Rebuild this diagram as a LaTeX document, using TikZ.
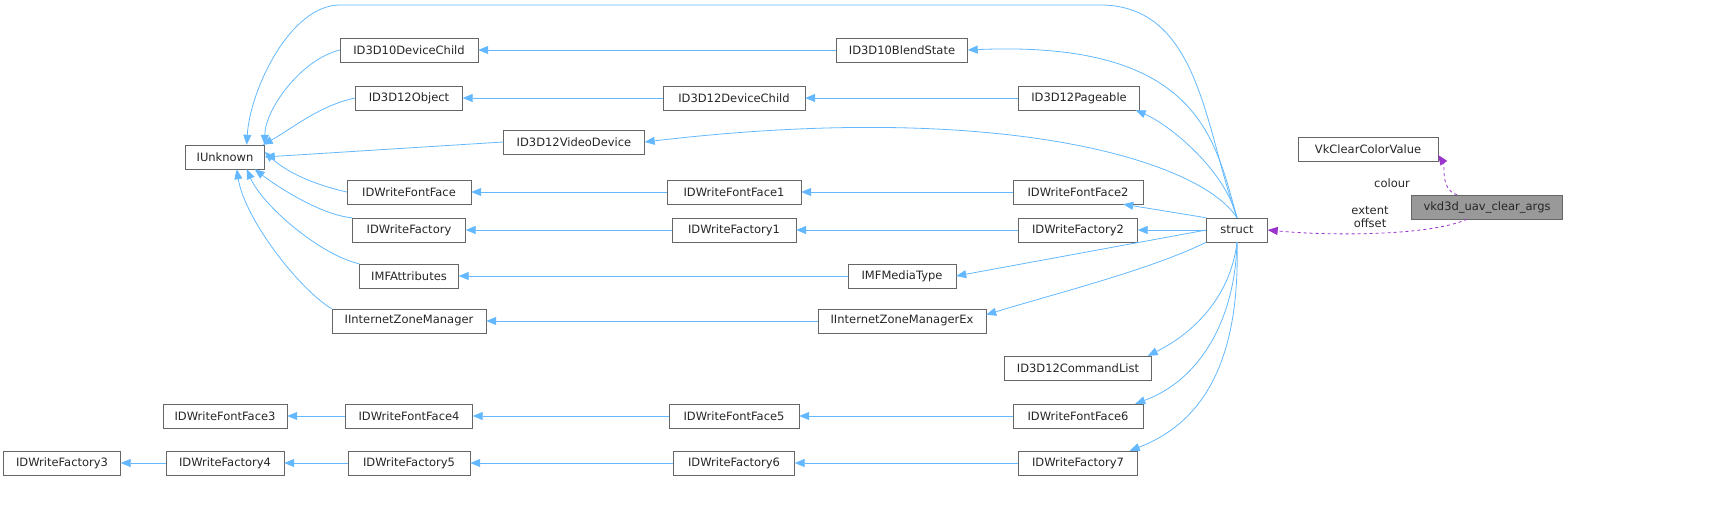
\documentclass[tikz,border=0pt]{standalone}
\usepackage{fontspec}
\setmainfont{DejaVu Sans}
\usetikzlibrary{arrows.meta}
\definecolor{eb}{HTML}{63B8FF}
\definecolor{ep}{HTML}{9A32CD}
\newcommand\nd[5]{\node[box,minimum width=#4pt] (#1) at (#2,#3) {#5};}
\begin{document}
\begin{tikzpicture}[x=1pt,y=-1pt,
  box/.style={draw=black!60,rectangle,minimum height=24pt,inner sep=0pt,font=\fontsize{11.5}{13}\selectfont,text=black!85},
  e/.style={draw=eb,line width=0.8pt,-{Triangle[length=10pt,width=8pt]}},
  p/.style={draw=ep,line width=0.8pt,dashed,-{Triangle[length=10pt,width=8pt]}},
  lab/.style={font=\fontsize{11.5}{13}\selectfont,text=black!85,align=center,inner sep=0pt}]
\useasboundingbox (0,0) rectangle (1731,526);
\nd{IU}{225}{157}{79}{IUnknown}
\nd{DDC}{409}{50}{138}{ID3D10DeviceChild}
\nd{DO}{409}{98}{107}{ID3D12Object}
\nd{VD}{574}{142}{141}{ID3D12VideoDevice}
\nd{FF}{409}{192}{124}{IDWriteFontFace}
\nd{FA}{409}{230}{113}{IDWriteFactory}
\nd{MA}{409}{276}{99}{IMFAttributes}
\nd{IZ}{409}{321}{154}{IInternetZoneManager}
\nd{BS}{902}{50}{131}{ID3D10BlendState}
\nd{DC}{734}{98}{142}{ID3D12DeviceChild}
\nd{PG}{1079}{98}{121}{ID3D12Pageable}
\nd{FF1}{734}{192}{134}{IDWriteFontFace1}
\nd{FF2}{1078}{192}{130}{IDWriteFontFace2}
\nd{FA1}{734}{230}{124}{IDWriteFactory1}
\nd{FA2}{1078}{230}{119}{IDWriteFactory2}
\nd{MT}{902}{276}{108}{IMFMediaType}
\nd{IZX}{902}{321}{168}{IInternetZoneManagerEx}
\nd{CL}{1078}{368}{147}{ID3D12CommandList}
\nd{FF6}{1078}{416}{130}{IDWriteFontFace6}
\nd{FA7}{1078}{463}{119}{IDWriteFactory7}
\nd{FF3}{225}{416}{124}{IDWriteFontFace3}
\nd{FF4}{409}{416}{127}{IDWriteFontFace4}
\nd{FF5}{734}{416}{130}{IDWriteFontFace5}
\nd{FA3}{62}{463}{117}{IDWriteFactory3}
\nd{FA4}{225}{463}{118}{IDWriteFactory4}
\nd{FA5}{409}{463}{122}{IDWriteFactory5}
\nd{FA6}{734}{463}{121}{IDWriteFactory6}
\nd{ST}{1237}{230}{61}{struct}
\nd{VK}{1368}{149}{140}{VkClearColorValue}
\node[box,minimum width=151pt,fill=black!40] (VA) at (1487,207) {vkd3d\_uav\_clear\_args};
% to IUnknown
\draw[e] (DDC.west) .. controls (300,60) and (265,110) .. (IU.north east);
\draw[e] (DO.west) .. controls (320,105) and (290,130) .. ([xshift=-2pt]IU.north east);
\draw[e] (VD.west) -- (IU.east);
\draw[e] (FF.west) .. controls (320,186) and (290,175) .. ([yshift=5pt]IU.east);
\draw[e] (FA.north west) .. controls (320,215) and (275,185) .. ([xshift=-10pt]IU.south east);
\draw[e] (MA.north west) .. controls (320,255) and (262,205) .. ([xshift=-18pt]IU.south east);
\draw[e] (IZ.north west) .. controls (300,290) and (245,220) .. ([xshift=-28pt]IU.south east);
\draw[e] (ST.north) .. controls (1205,130) and (1200,5) .. (1100,5) -- (340,5) .. controls (290,5) and (250,90) .. ([xshift=-18pt]IU.north east);
% chains
\draw[e] (BS) -- (DDC);
\draw[e] (DC) -- (DO);
\draw[e] (PG) -- (DC);
\draw[e] (FF1) -- (FF);
\draw[e] (FF2) -- (FF1);
\draw[e] (FA1) -- (FA);
\draw[e] (FA2) -- (FA1);
\draw[e] (MT) -- (MA);
\draw[e] (IZX) -- (IZ);
\draw[e] (FF4) -- (FF3);
\draw[e] (FF5) -- (FF4);
\draw[e] (FF6) -- (FF5);
\draw[e] (FA4) -- (FA3);
\draw[e] (FA5) -- (FA4);
\draw[e] (FA6) -- (FA5);
\draw[e] (FA7) -- (FA6);
% from struct
\draw[e] (ST.north) .. controls (1215,140) and (1200,40) .. (BS.east);
\draw[e] (ST.north) .. controls (1225,170) and (1170,125) .. ([xshift=-4pt]PG.south east);
\draw[e] (ST.north) .. controls (1200,160) and (1000,100) .. (VD.east);
\draw[e] (ST.north west) -- ([xshift=-20pt]FF2.south east);
\draw[e] (ST) -- (FA2);
\draw[e] (ST.west) -- (MT.east);
\draw[e] (ST.south west) .. controls (1150,270) and (1050,295) .. ([yshift=-6pt]IZX.north east);
\draw[e] (ST.south) .. controls (1230,300) and (1190,335) .. ([xshift=-4pt]CL.north east);
\draw[e] (ST.south) .. controls (1235,320) and (1200,380) .. ([xshift=-8pt]FF6.north east);
\draw[e] (ST.south) .. controls (1240,350) and (1210,420) .. ([xshift=-8pt]FA7.north east);
% purple
\draw[p] ([xshift=-30pt]VA.north) .. controls (1440,190) and (1445,165) .. (VK.east |- 0,155);
\draw[p] ([xshift=-20pt]VA.south) .. controls (1430,236) and (1330,236) .. (ST.east);
\node[lab] (l1) at (1392,183) {colour};
\node[lab] (l2) at (1370,217) {extent\\offset};
\end{tikzpicture}
\end{document}
